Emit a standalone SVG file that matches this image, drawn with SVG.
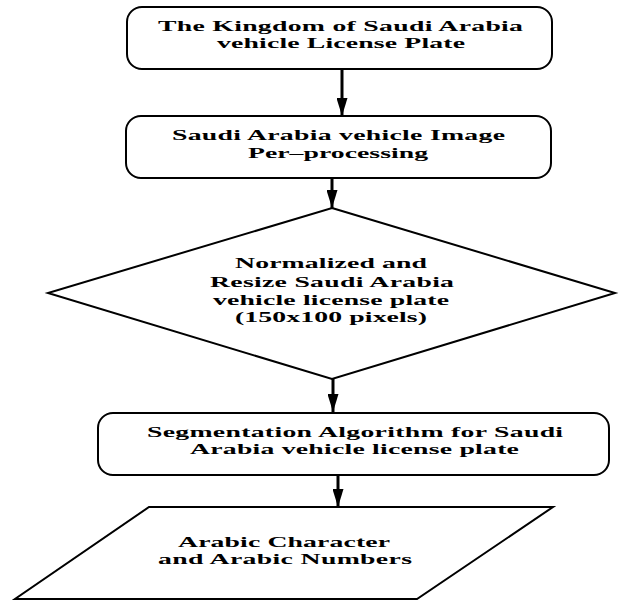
<svg xmlns="http://www.w3.org/2000/svg" width="619" height="600" viewBox="0 0 619 600">
<style>
.shape{fill:#fff;stroke:#000;stroke-width:2}
.conn{stroke:#000;stroke-width:3;fill:none}
text{font-family:"Liberation Serif","Times New Roman",serif;font-weight:bold;font-size:15px;fill:#000}
</style>
<defs>
<marker id="ah" markerUnits="userSpaceOnUse" markerWidth="18" markerHeight="11" refX="18" refY="5.5" orient="auto" viewBox="0 0 18 11">
<path d="M0,0 L18,5.5 L0,11 Z" fill="#000"/>
</marker>
</defs>
<rect width="619" height="600" fill="#fff"/>
<g id="connectors">
<line class="conn" x1="342" y1="69" x2="342" y2="116" marker-end="url(#ah)"/>
<line class="conn" x1="332" y1="178" x2="332" y2="208" marker-end="url(#ah)"/>
<line class="conn" x1="333" y1="379" x2="333" y2="412" marker-end="url(#ah)"/>
<line class="conn" x1="338" y1="475" x2="338" y2="507" marker-end="url(#ah)"/>
</g>
<g id="node1">
<rect class="shape" x="127" y="7" width="425" height="62" rx="15"/>
<text transform="translate(158,31) scale(1.85,1)" textLength="197.3" lengthAdjust="spacing">The Kingdom of Saudi Arabia</text>
<text transform="translate(217,48) scale(1.85,1)" textLength="134.1" lengthAdjust="spacing">vehicle License Plate</text>
</g>
<g id="node2">
<rect class="shape" x="126" y="116" width="425" height="62" rx="15"/>
<text transform="translate(172,140) scale(1.85,1)" textLength="180" lengthAdjust="spacing">Saudi Arabia vehicle Image</text>
<text transform="translate(248,158) scale(1.85,1)" textLength="97.3" lengthAdjust="spacing">Per–processing</text>
</g>
<g id="node3">
<polygon class="shape" points="332,208 615,293 332,379 48,293"/>
<text transform="translate(235,268) scale(1.85,1)" textLength="103.8" lengthAdjust="spacing">Normalized and</text>
<text transform="translate(210,287) scale(1.85,1)" textLength="131.9" lengthAdjust="spacing">Resize Saudi Arabia</text>
<text transform="translate(213,305) scale(1.85,1)" textLength="127.6" lengthAdjust="spacing">vehicle license plate</text>
<text transform="translate(235,322) scale(1.85,1)" textLength="103.8" lengthAdjust="spacing">(150x100 pixels)</text>
</g>
<g id="node4">
<rect class="shape" x="98" y="413" width="511" height="62" rx="15"/>
<text transform="translate(147,437) scale(1.85,1)" textLength="224.9" lengthAdjust="spacing">Segmentation Algorithm for Saudi</text>
<text transform="translate(190,454) scale(1.85,1)" textLength="177.8" lengthAdjust="spacing">Arabia vehicle license plate</text>
</g>
<g id="node5">
<polygon class="shape" points="149,507 553,507 417,599 15,599"/>
<text transform="translate(178,547) scale(1.85,1)" textLength="114.6" lengthAdjust="spacing">Arabic Character</text>
<text transform="translate(158,564) scale(1.85,1)" textLength="137.3" lengthAdjust="spacing">and Arabic Numbers</text>
</g>
</svg>
